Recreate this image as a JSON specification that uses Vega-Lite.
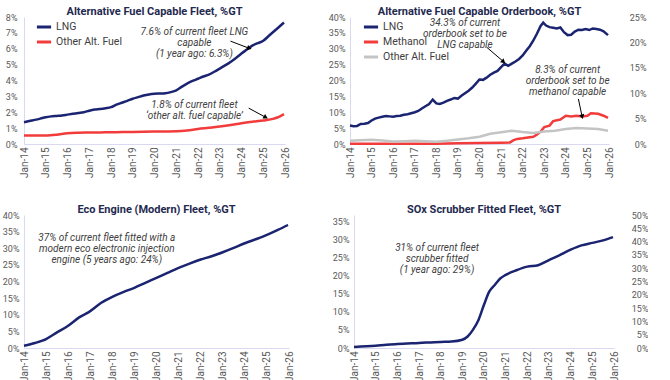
{
  "$schema": "https://vega.github.io/schema/vega-lite/v6.json",
  "padding": {"left": 2, "top": 6, "right": 0, "bottom": 0},
  "background": "white",
  "spacing": 26,
  "config": {
    "view": {"stroke": null},
    "font": "Roboto",
    "axis": {"grid": false, "ticks": false, "domainColor": "#d9d9f2", "domainWidth": 1, "labelColor": "#595959", "labelFont": "Roboto", "labelFontSize": 9, "title": null, "labelPadding": 5, "labelOverlap": false},
    "axisX": {"labelAngle": -90, "labelFontSize": 10, "format": "%b-%y", "labelPadding": 3, "labelOverlap": false, "labelFlush": false, "tickCount": {"interval": "year", "step": 1}},
    "title": {"fontSize": 11, "font": "Roboto", "fontWeight": "bold", "color": "#1f2a50", "offset": -4, "anchor": "middle"},
    "legend": {"title": null, "orient": "none", "symbolType": "stroke", "symbolStrokeWidth": 3, "labelFont": "Roboto", "labelFontSize": 10.5, "labelColor": "#404040", "labelOffset": 3, "padding": 0}
  },
  "datasets": {
    "p1": [
      {"series": "LNG", "date": "2014-01-01", "value": 1.37},
      {"series": "LNG", "date": "2014-04-01", "value": 1.45},
      {"series": "LNG", "date": "2014-07-01", "value": 1.52},
      {"series": "LNG", "date": "2014-10-01", "value": 1.6},
      {"series": "LNG", "date": "2015-01-01", "value": 1.69},
      {"series": "LNG", "date": "2015-04-01", "value": 1.74},
      {"series": "LNG", "date": "2015-07-01", "value": 1.77},
      {"series": "LNG", "date": "2015-10-01", "value": 1.8},
      {"series": "LNG", "date": "2016-01-01", "value": 1.85},
      {"series": "LNG", "date": "2016-04-01", "value": 1.9},
      {"series": "LNG", "date": "2016-07-01", "value": 1.95},
      {"series": "LNG", "date": "2016-10-01", "value": 2.0},
      {"series": "LNG", "date": "2017-01-01", "value": 2.1},
      {"series": "LNG", "date": "2017-04-01", "value": 2.17},
      {"series": "LNG", "date": "2017-07-01", "value": 2.2},
      {"series": "LNG", "date": "2017-10-01", "value": 2.25},
      {"series": "LNG", "date": "2018-01-01", "value": 2.32},
      {"series": "LNG", "date": "2018-04-01", "value": 2.48},
      {"series": "LNG", "date": "2018-07-01", "value": 2.6},
      {"series": "LNG", "date": "2018-10-01", "value": 2.72},
      {"series": "LNG", "date": "2019-01-01", "value": 2.85},
      {"series": "LNG", "date": "2019-04-01", "value": 2.95},
      {"series": "LNG", "date": "2019-07-01", "value": 3.05},
      {"series": "LNG", "date": "2019-10-01", "value": 3.12},
      {"series": "LNG", "date": "2020-01-01", "value": 3.16},
      {"series": "LNG", "date": "2020-04-01", "value": 3.18},
      {"series": "LNG", "date": "2020-07-01", "value": 3.2},
      {"series": "LNG", "date": "2020-10-01", "value": 3.27},
      {"series": "LNG", "date": "2021-01-01", "value": 3.38},
      {"series": "LNG", "date": "2021-04-01", "value": 3.6},
      {"series": "LNG", "date": "2021-07-01", "value": 3.8},
      {"series": "LNG", "date": "2021-10-01", "value": 3.97},
      {"series": "LNG", "date": "2022-01-01", "value": 4.11},
      {"series": "LNG", "date": "2022-04-01", "value": 4.25},
      {"series": "LNG", "date": "2022-07-01", "value": 4.37},
      {"series": "LNG", "date": "2022-10-01", "value": 4.55},
      {"series": "LNG", "date": "2023-01-01", "value": 4.75},
      {"series": "LNG", "date": "2023-04-01", "value": 4.95},
      {"series": "LNG", "date": "2023-07-01", "value": 5.17},
      {"series": "LNG", "date": "2023-10-01", "value": 5.42},
      {"series": "LNG", "date": "2024-01-01", "value": 5.7},
      {"series": "LNG", "date": "2024-04-01", "value": 5.95},
      {"series": "LNG", "date": "2024-07-01", "value": 6.2},
      {"series": "LNG", "date": "2024-10-01", "value": 6.35},
      {"series": "LNG", "date": "2025-01-01", "value": 6.5},
      {"series": "LNG", "date": "2025-04-01", "value": 6.8},
      {"series": "LNG", "date": "2025-07-01", "value": 7.1},
      {"series": "LNG", "date": "2025-10-01", "value": 7.4},
      {"series": "LNG", "date": "2025-12-15", "value": 7.65},
      {"series": "Other Alt. Fuel", "date": "2014-01-01", "value": 0.53},
      {"series": "Other Alt. Fuel", "date": "2014-07-01", "value": 0.53},
      {"series": "Other Alt. Fuel", "date": "2015-01-01", "value": 0.53},
      {"series": "Other Alt. Fuel", "date": "2015-07-01", "value": 0.58},
      {"series": "Other Alt. Fuel", "date": "2016-01-01", "value": 0.68},
      {"series": "Other Alt. Fuel", "date": "2016-07-01", "value": 0.71},
      {"series": "Other Alt. Fuel", "date": "2017-01-01", "value": 0.72},
      {"series": "Other Alt. Fuel", "date": "2017-07-01", "value": 0.73},
      {"series": "Other Alt. Fuel", "date": "2018-01-01", "value": 0.74},
      {"series": "Other Alt. Fuel", "date": "2018-07-01", "value": 0.75},
      {"series": "Other Alt. Fuel", "date": "2019-01-01", "value": 0.76},
      {"series": "Other Alt. Fuel", "date": "2019-07-01", "value": 0.77},
      {"series": "Other Alt. Fuel", "date": "2020-01-01", "value": 0.78},
      {"series": "Other Alt. Fuel", "date": "2020-07-01", "value": 0.79},
      {"series": "Other Alt. Fuel", "date": "2021-01-01", "value": 0.8},
      {"series": "Other Alt. Fuel", "date": "2021-07-01", "value": 0.85},
      {"series": "Other Alt. Fuel", "date": "2022-01-01", "value": 0.95},
      {"series": "Other Alt. Fuel", "date": "2022-07-01", "value": 1.02},
      {"series": "Other Alt. Fuel", "date": "2023-01-01", "value": 1.1},
      {"series": "Other Alt. Fuel", "date": "2023-07-01", "value": 1.2},
      {"series": "Other Alt. Fuel", "date": "2024-01-01", "value": 1.31},
      {"series": "Other Alt. Fuel", "date": "2024-07-01", "value": 1.4},
      {"series": "Other Alt. Fuel", "date": "2025-01-01", "value": 1.48},
      {"series": "Other Alt. Fuel", "date": "2025-07-01", "value": 1.6},
      {"series": "Other Alt. Fuel", "date": "2025-10-01", "value": 1.72},
      {"series": "Other Alt. Fuel", "date": "2025-12-15", "value": 1.88}
    ],
    "p2": [
      {"series": "LNG", "date": "2014-01-01", "value": 5.8},
      {"series": "LNG", "date": "2014-03-01", "value": 5.6},
      {"series": "LNG", "date": "2014-05-01", "value": 5.7},
      {"series": "LNG", "date": "2014-07-01", "value": 6.3},
      {"series": "LNG", "date": "2014-09-01", "value": 6.4},
      {"series": "LNG", "date": "2014-11-01", "value": 6.6},
      {"series": "LNG", "date": "2015-01-01", "value": 7.4},
      {"series": "LNG", "date": "2015-03-01", "value": 8.0},
      {"series": "LNG", "date": "2015-05-01", "value": 8.3},
      {"series": "LNG", "date": "2015-07-01", "value": 8.6},
      {"series": "LNG", "date": "2015-09-01", "value": 8.8},
      {"series": "LNG", "date": "2015-11-01", "value": 8.7},
      {"series": "LNG", "date": "2016-01-01", "value": 8.6},
      {"series": "LNG", "date": "2016-03-01", "value": 8.8},
      {"series": "LNG", "date": "2016-05-01", "value": 8.9},
      {"series": "LNG", "date": "2016-07-01", "value": 9.2},
      {"series": "LNG", "date": "2016-09-01", "value": 9.4},
      {"series": "LNG", "date": "2016-11-01", "value": 9.7},
      {"series": "LNG", "date": "2017-01-01", "value": 10.0},
      {"series": "LNG", "date": "2017-03-01", "value": 10.4},
      {"series": "LNG", "date": "2017-05-01", "value": 11.2},
      {"series": "LNG", "date": "2017-07-01", "value": 11.9},
      {"series": "LNG", "date": "2017-09-01", "value": 12.6},
      {"series": "LNG", "date": "2017-11-01", "value": 14.0},
      {"series": "LNG", "date": "2018-01-01", "value": 12.8},
      {"series": "LNG", "date": "2018-03-01", "value": 12.6},
      {"series": "LNG", "date": "2018-05-01", "value": 13.0},
      {"series": "LNG", "date": "2018-07-01", "value": 13.6},
      {"series": "LNG", "date": "2018-09-01", "value": 14.0},
      {"series": "LNG", "date": "2018-11-01", "value": 14.5},
      {"series": "LNG", "date": "2019-01-01", "value": 14.3},
      {"series": "LNG", "date": "2019-03-01", "value": 15.2},
      {"series": "LNG", "date": "2019-05-01", "value": 16.0},
      {"series": "LNG", "date": "2019-07-01", "value": 16.8},
      {"series": "LNG", "date": "2019-09-01", "value": 17.8},
      {"series": "LNG", "date": "2019-11-01", "value": 19.0},
      {"series": "LNG", "date": "2020-01-01", "value": 20.3},
      {"series": "LNG", "date": "2020-03-01", "value": 20.2},
      {"series": "LNG", "date": "2020-05-01", "value": 20.9},
      {"series": "LNG", "date": "2020-07-01", "value": 21.8},
      {"series": "LNG", "date": "2020-09-01", "value": 22.5},
      {"series": "LNG", "date": "2020-11-01", "value": 23.0},
      {"series": "LNG", "date": "2021-01-01", "value": 24.2},
      {"series": "LNG", "date": "2021-03-01", "value": 25.3},
      {"series": "LNG", "date": "2021-05-01", "value": 24.6},
      {"series": "LNG", "date": "2021-07-01", "value": 25.3},
      {"series": "LNG", "date": "2021-09-01", "value": 26.0},
      {"series": "LNG", "date": "2021-11-01", "value": 26.8},
      {"series": "LNG", "date": "2022-01-01", "value": 27.9},
      {"series": "LNG", "date": "2022-03-01", "value": 29.4},
      {"series": "LNG", "date": "2022-05-01", "value": 30.8},
      {"series": "LNG", "date": "2022-07-01", "value": 32.6},
      {"series": "LNG", "date": "2022-09-01", "value": 34.8},
      {"series": "LNG", "date": "2022-11-01", "value": 37.2},
      {"series": "LNG", "date": "2022-12-15", "value": 38.2},
      {"series": "LNG", "date": "2023-02-01", "value": 37.3},
      {"series": "LNG", "date": "2023-04-01", "value": 36.8},
      {"series": "LNG", "date": "2023-06-01", "value": 36.6},
      {"series": "LNG", "date": "2023-08-01", "value": 36.4},
      {"series": "LNG", "date": "2023-10-01", "value": 36.7},
      {"series": "LNG", "date": "2023-12-01", "value": 35.2},
      {"series": "LNG", "date": "2024-02-01", "value": 34.3},
      {"series": "LNG", "date": "2024-04-01", "value": 34.4},
      {"series": "LNG", "date": "2024-06-01", "value": 35.4},
      {"series": "LNG", "date": "2024-08-01", "value": 36.0},
      {"series": "LNG", "date": "2024-10-01", "value": 35.9},
      {"series": "LNG", "date": "2024-12-01", "value": 36.2},
      {"series": "LNG", "date": "2025-02-01", "value": 35.9},
      {"series": "LNG", "date": "2025-04-01", "value": 36.4},
      {"series": "LNG", "date": "2025-06-01", "value": 36.2},
      {"series": "LNG", "date": "2025-08-01", "value": 36.0},
      {"series": "LNG", "date": "2025-10-01", "value": 35.5},
      {"series": "LNG", "date": "2025-12-15", "value": 34.3},
      {"series": "Methanol", "date": "2014-01-01", "value": 0.1},
      {"series": "Methanol", "date": "2016-01-01", "value": 0.1},
      {"series": "Methanol", "date": "2018-01-01", "value": 0.1},
      {"series": "Methanol", "date": "2019-01-01", "value": 0.2},
      {"series": "Methanol", "date": "2020-01-01", "value": 0.3},
      {"series": "Methanol", "date": "2021-01-01", "value": 0.4},
      {"series": "Methanol", "date": "2021-06-01", "value": 0.5},
      {"series": "Methanol", "date": "2021-08-01", "value": 1.2},
      {"series": "Methanol", "date": "2021-10-01", "value": 1.6},
      {"series": "Methanol", "date": "2022-01-01", "value": 1.8},
      {"series": "Methanol", "date": "2022-07-01", "value": 2.3},
      {"series": "Methanol", "date": "2022-09-01", "value": 3.0},
      {"series": "Methanol", "date": "2022-11-01", "value": 3.9},
      {"series": "Methanol", "date": "2023-01-01", "value": 5.3},
      {"series": "Methanol", "date": "2023-04-01", "value": 5.8},
      {"series": "Methanol", "date": "2023-06-01", "value": 7.2},
      {"series": "Methanol", "date": "2023-10-01", "value": 7.7},
      {"series": "Methanol", "date": "2024-01-01", "value": 8.9},
      {"series": "Methanol", "date": "2024-04-01", "value": 8.7},
      {"series": "Methanol", "date": "2024-07-01", "value": 8.9},
      {"series": "Methanol", "date": "2024-10-01", "value": 8.7},
      {"series": "Methanol", "date": "2025-01-01", "value": 8.9},
      {"series": "Methanol", "date": "2025-03-01", "value": 9.7},
      {"series": "Methanol", "date": "2025-07-01", "value": 9.5},
      {"series": "Methanol", "date": "2025-10-01", "value": 8.9},
      {"series": "Methanol", "date": "2025-12-15", "value": 8.2},
      {"series": "Other Alt. Fuel", "date": "2014-01-01", "value": 1.05},
      {"series": "Other Alt. Fuel", "date": "2014-07-01", "value": 1.2},
      {"series": "Other Alt. Fuel", "date": "2015-01-01", "value": 1.3},
      {"series": "Other Alt. Fuel", "date": "2015-07-01", "value": 1.1},
      {"series": "Other Alt. Fuel", "date": "2016-01-01", "value": 0.8},
      {"series": "Other Alt. Fuel", "date": "2016-07-01", "value": 0.9},
      {"series": "Other Alt. Fuel", "date": "2017-01-01", "value": 1.05},
      {"series": "Other Alt. Fuel", "date": "2017-07-01", "value": 0.9},
      {"series": "Other Alt. Fuel", "date": "2018-01-01", "value": 0.7},
      {"series": "Other Alt. Fuel", "date": "2018-07-01", "value": 1.0},
      {"series": "Other Alt. Fuel", "date": "2019-01-01", "value": 1.4},
      {"series": "Other Alt. Fuel", "date": "2019-07-01", "value": 1.8},
      {"series": "Other Alt. Fuel", "date": "2020-01-01", "value": 2.3},
      {"series": "Other Alt. Fuel", "date": "2020-07-01", "value": 3.2},
      {"series": "Other Alt. Fuel", "date": "2021-01-01", "value": 3.7},
      {"series": "Other Alt. Fuel", "date": "2021-07-01", "value": 4.2},
      {"series": "Other Alt. Fuel", "date": "2022-01-01", "value": 3.8},
      {"series": "Other Alt. Fuel", "date": "2022-07-01", "value": 3.5},
      {"series": "Other Alt. Fuel", "date": "2023-01-01", "value": 3.9},
      {"series": "Other Alt. Fuel", "date": "2023-07-01", "value": 4.2},
      {"series": "Other Alt. Fuel", "date": "2024-01-01", "value": 4.7},
      {"series": "Other Alt. Fuel", "date": "2024-07-01", "value": 5.0},
      {"series": "Other Alt. Fuel", "date": "2025-01-01", "value": 4.9},
      {"series": "Other Alt. Fuel", "date": "2025-07-01", "value": 4.7},
      {"series": "Other Alt. Fuel", "date": "2025-12-15", "value": 4.2}
    ],
    "p3": [
      {"date": "2014-01-01", "value": 0.7},
      {"date": "2014-07-01", "value": 1.5},
      {"date": "2015-01-01", "value": 2.7},
      {"date": "2015-07-01", "value": 4.7},
      {"date": "2016-01-01", "value": 6.7},
      {"date": "2016-07-01", "value": 9.2},
      {"date": "2017-01-01", "value": 11.1},
      {"date": "2017-07-01", "value": 13.6},
      {"date": "2018-01-01", "value": 15.4},
      {"date": "2018-07-01", "value": 16.8},
      {"date": "2019-01-01", "value": 18.1},
      {"date": "2019-07-01", "value": 19.6},
      {"date": "2020-01-01", "value": 21.1},
      {"date": "2020-07-01", "value": 22.6},
      {"date": "2021-01-01", "value": 24.1},
      {"date": "2021-07-01", "value": 25.4},
      {"date": "2022-01-01", "value": 26.6},
      {"date": "2022-07-01", "value": 27.6},
      {"date": "2023-01-01", "value": 28.8},
      {"date": "2023-07-01", "value": 30.1},
      {"date": "2024-01-01", "value": 31.5},
      {"date": "2024-07-01", "value": 32.7},
      {"date": "2025-01-01", "value": 34.0},
      {"date": "2025-07-01", "value": 35.5},
      {"date": "2025-12-15", "value": 37.0}
    ],
    "p4": [
      {"date": "2014-01-01", "value": 0.3},
      {"date": "2015-01-01", "value": 0.6},
      {"date": "2015-07-01", "value": 0.9},
      {"date": "2016-01-01", "value": 1.1},
      {"date": "2017-01-01", "value": 1.4},
      {"date": "2018-01-01", "value": 1.7},
      {"date": "2018-07-01", "value": 1.8},
      {"date": "2019-01-01", "value": 2.3},
      {"date": "2019-04-01", "value": 3.2},
      {"date": "2019-07-01", "value": 5.1},
      {"date": "2019-10-01", "value": 7.8},
      {"date": "2020-01-01", "value": 12.0},
      {"date": "2020-04-01", "value": 15.7},
      {"date": "2020-07-01", "value": 17.5},
      {"date": "2020-10-01", "value": 19.3},
      {"date": "2021-01-01", "value": 20.3},
      {"date": "2021-07-01", "value": 21.6},
      {"date": "2022-01-01", "value": 22.6},
      {"date": "2022-07-01", "value": 23.0},
      {"date": "2023-01-01", "value": 24.4},
      {"date": "2023-07-01", "value": 25.8},
      {"date": "2024-01-01", "value": 27.3},
      {"date": "2024-07-01", "value": 28.5},
      {"date": "2025-01-01", "value": 29.2},
      {"date": "2025-07-01", "value": 29.9},
      {"date": "2025-12-15", "value": 30.8}
    ],
    "notes": [
      {"panel": 1, "date": "2021-11-01", "value": 7.37, "label": "7.6% of current fleet LNG\ncapable\n(1 year ago: 6.3%)"},
      {"panel": 1, "date": "2021-11-01", "value": 2.77, "label": "1.8% of current fleet\n‘other alt. fuel capable’"},
      {"panel": 2, "date": "2019-05-01", "value": 39.6, "label": "34.3% of current\norderbook set to be\nLNG capable"},
      {"panel": 2, "date": "2024-02-01", "value": 24.9, "label": "8.3% of current\norderbook set to be\nmethanol capable"},
      {"panel": 3, "date": "2017-10-01", "value": 34.6, "label": "37% of current fleet fitted with a\nmodern eco electronic injection\nengine (5 years ago: 24%)"},
      {"panel": 4, "date": "2017-11-01", "value": 29.2, "label": "31% of current fleet\nscrubber fitted\n(1 year ago: 29%)"}
    ],
    "arrows": [
      {"id": "a1", "date": "2023-07-01", "value": 6.48, "date2": "2024-05-01", "value2": 6.04},
      {"id": "a2", "date": "2024-05-01", "value": 2.26, "date2": "2025-02-01", "value2": 1.7},
      {"id": "a3", "date": "2020-05-01", "value": 30.5, "date2": "2021-02-01", "value2": 26.1},
      {"id": "a4", "date": "2024-08-01", "value": 14.2, "date2": "2024-10-01", "value2": 8.8}
    ]
  },
  "vconcat": [
    {
      "spacing": 38,
      "resolve": {"scale": {"color": "independent"}, "legend": {"color": "independent"}},
      "hconcat": [
        {
          "title": "Alternative Fuel Capable Fleet, %GT",
          "width": 261,
          "height": 127,
          "encoding": {
            "x": {"field": "date", "type": "temporal", "scale": {"type": "utc", "domain": [{"year": 2014, "month": 1, "date": 1, "utc": true}, {"year": 2026, "month": 1, "date": 1, "utc": true}]}},
            "y": {"field": "value", "type": "quantitative", "scale": {"domain": [0, 8], "nice": false}, "axis": {"values": [0, 1, 2, 3, 4, 5, 6, 7, 8], "labelExpr": "datum.value + '%'", "labelPadding": 7, "labelOverlap": false}}
          },
          "layer": [
            {
              "data": {"name": "p1"},
              "mark": {"type": "line", "strokeWidth": 2.5, "interpolate": "monotone"},
              "encoding": {
                "color": {"field": "series", "type": "nominal", "scale": {"domain": ["LNG", "Other Alt. Fuel"], "range": ["#1b2470", "#f23c3c"]}, "legend": {"legendX": 11, "legendY": 1, "symbolSize": 200, "rowPadding": -2}}
              }
            },
            {
              "data": {"name": "notes"},
              "transform": [{"filter": "datum.panel == 1"}],
              "mark": {"type": "text", "align": "center", "baseline": "top", "fontStyle": "italic", "fontSize": 10, "lineHeight": 11, "lineBreak": "\n", "color": "#404040"},
              "encoding": {"text": {"field": "label"}}
            },
            {
              "data": {"name": "arrows"},
              "transform": [{"filter": "datum.id == 'a1' || datum.id == 'a2'"}],
              "mark": {"type": "rule", "color": "#000000", "strokeWidth": 1},
              "encoding": {"x2": {"field": "date2"}, "y2": {"field": "value2"}}
            },
            {
              "data": {"name": "arrows"},
              "transform": [{"filter": "datum.id == 'a1'"}],
              "mark": {"type": "point", "shape": "triangle", "filled": true, "color": "#000000", "size": 28, "angle": 109, "opacity": 1},
              "encoding": {
                "x": {"field": "date2", "type": "temporal", "scale": {"type": "utc", "domain": [{"year": 2014, "month": 1, "date": 1, "utc": true}, {"year": 2026, "month": 1, "date": 1, "utc": true}]}},
                "y": {"field": "value2", "type": "quantitative", "scale": {"domain": [0, 8], "nice": false}, "axis": {"values": [0, 1, 2, 3, 4, 5, 6, 7, 8], "labelExpr": "datum.value + '%'", "labelPadding": 7, "labelOverlap": false}}
              }
            },
            {
              "data": {"name": "arrows"},
              "transform": [{"filter": "datum.id == 'a2'"}],
              "mark": {"type": "point", "shape": "triangle", "filled": true, "color": "#000000", "size": 28, "angle": 119, "opacity": 1},
              "encoding": {
                "x": {"field": "date2", "type": "temporal", "scale": {"type": "utc", "domain": [{"year": 2014, "month": 1, "date": 1, "utc": true}, {"year": 2026, "month": 1, "date": 1, "utc": true}]}},
                "y": {"field": "value2", "type": "quantitative", "scale": {"domain": [0, 8], "nice": false}, "axis": {"values": [0, 1, 2, 3, 4, 5, 6, 7, 8], "labelExpr": "datum.value + '%'", "labelPadding": 7, "labelOverlap": false}}
              }
            }
          ]
        },
        {
          "title": "Alternative Fuel Capable Orderbook, %GT",
          "width": 259,
          "height": 127,
          "resolve": {"scale": {"y": "independent"}},
          "layer": [
            {
              "encoding": {
                "x": {"field": "date", "type": "temporal", "scale": {"type": "utc", "domain": [{"year": 2014, "month": 1, "date": 1, "utc": true}, {"year": 2026, "month": 1, "date": 1, "utc": true}]}},
                "y": {"field": "value", "type": "quantitative", "scale": {"domain": [0, 40], "nice": false}, "axis": {"values": [0, 5, 10, 15, 20, 25, 30, 35, 40], "labelExpr": "datum.value + '%'", "orient": "left", "labelOverlap": false}}
              },
              "layer": [
                {
                  "data": {"name": "p2"},
                  "mark": {"type": "line", "strokeWidth": 2.5},
                  "encoding": {
                    "color": {"field": "series", "type": "nominal", "scale": {"domain": ["LNG", "Methanol", "Other Alt. Fuel"], "range": ["#1b2470", "#f23c3c", "#c4c4c4"]}, "legend": {"legendX": 12, "legendY": 1, "symbolSize": 200, "rowPadding": -2}}
                  }
                },
                {
                  "data": {"name": "notes"},
                  "transform": [{"filter": "datum.panel == 2"}],
                  "mark": {"type": "text", "align": "center", "baseline": "top", "fontStyle": "italic", "fontSize": 10, "lineHeight": 11, "lineBreak": "\n", "color": "#404040"},
                  "encoding": {"text": {"field": "label"}}
                },
                {
                  "data": {"name": "arrows"},
                  "transform": [{"filter": "datum.id == 'a3' || datum.id == 'a4'"}],
                  "mark": {"type": "rule", "color": "#000000", "strokeWidth": 1},
                  "encoding": {"x2": {"field": "date2"}, "y2": {"field": "value2"}}
                },
                {
                  "data": {"name": "arrows"},
                  "transform": [{"filter": "datum.id == 'a3'"}],
                  "mark": {"type": "point", "shape": "triangle", "filled": true, "color": "#000000", "size": 28, "angle": 131, "opacity": 1},
                  "encoding": {
                    "x": {"field": "date2", "type": "temporal", "scale": {"type": "utc", "domain": [{"year": 2014, "month": 1, "date": 1, "utc": true}, {"year": 2026, "month": 1, "date": 1, "utc": true}]}},
                    "y": {"field": "value2", "type": "quantitative", "scale": {"domain": [0, 40], "nice": false}, "axis": {"values": [0, 5, 10, 15, 20, 25, 30, 35, 40], "labelExpr": "datum.value + '%'", "orient": "left", "labelOverlap": false}}
                  }
                },
                {
                  "data": {"name": "arrows"},
                  "transform": [{"filter": "datum.id == 'a4'"}],
                  "mark": {"type": "point", "shape": "triangle", "filled": true, "color": "#000000", "size": 28, "angle": 164, "opacity": 1},
                  "encoding": {
                    "x": {"field": "date2", "type": "temporal", "scale": {"type": "utc", "domain": [{"year": 2014, "month": 1, "date": 1, "utc": true}, {"year": 2026, "month": 1, "date": 1, "utc": true}]}},
                    "y": {"field": "value2", "type": "quantitative", "scale": {"domain": [0, 40], "nice": false}, "axis": {"values": [0, 5, 10, 15, 20, 25, 30, 35, 40], "labelExpr": "datum.value + '%'", "orient": "left", "labelOverlap": false}}
                  }
                }
              ]
            },
            {
              "data": {"values": [{"v": 0}, {"v": 25}]},
              "mark": {"type": "point", "opacity": 0},
              "encoding": {
                "y": {"field": "v", "type": "quantitative", "scale": {"domain": [0, 25], "nice": false}, "axis": {"orient": "right", "values": [0, 5, 10, 15, 20, 25], "labelExpr": "datum.value + '%'", "domain": false, "labelAlign": "right", "labelPadding": 37, "labelOverlap": false}}
              }
            }
          ]
        }
      ]
    },
    {
      "spacing": 38,
      "hconcat": [
        {
          "title": "Eco Engine (Modern) Fleet, %GT",
          "width": 265,
          "height": 133,
          "encoding": {
            "x": {"field": "date", "type": "temporal", "scale": {"type": "utc", "domain": [{"year": 2014, "month": 1, "date": 1, "utc": true}, {"year": 2026, "month": 1, "date": 1, "utc": true}]}},
            "y": {"field": "value", "type": "quantitative", "scale": {"domain": [0, 40], "nice": false}, "axis": {"values": [0, 5, 10, 15, 20, 25, 30, 35, 40], "labelExpr": "datum.value + '%'", "labelPadding": 5, "labelOverlap": false}}
          },
          "layer": [
            {
              "data": {"name": "p3"},
              "mark": {"type": "line", "strokeWidth": 2.5, "interpolate": "monotone", "color": "#1b2470"}
            },
            {
              "data": {"name": "notes"},
              "transform": [{"filter": "datum.panel == 3"}],
              "mark": {"type": "text", "align": "center", "baseline": "top", "fontStyle": "italic", "fontSize": 10, "lineHeight": 11, "lineBreak": "\n", "color": "#404040"},
              "encoding": {"text": {"field": "label"}}
            }
          ]
        },
        {
          "title": "SOx Scrubber Fitted Fleet, %GT",
          "width": 260,
          "height": 133,
          "resolve": {"scale": {"y": "independent"}},
          "layer": [
            {
              "encoding": {
                "x": {"field": "date", "type": "temporal", "scale": {"type": "utc", "domain": [{"year": 2014, "month": 1, "date": 1, "utc": true}, {"year": 2026, "month": 1, "date": 1, "utc": true}]}},
                "y": {"field": "value", "type": "quantitative", "scale": {"domain": [0, 36.94], "nice": false}, "axis": {"values": [0, 5, 10, 15, 20, 25, 30, 35], "labelExpr": "datum.value + '%'", "orient": "left", "labelOverlap": false}}
              },
              "layer": [
                {
                  "data": {"name": "p4"},
                  "mark": {"type": "line", "strokeWidth": 2.5, "interpolate": "monotone", "color": "#1b2470"}
                },
                {
                  "data": {"name": "notes"},
                  "transform": [{"filter": "datum.panel == 4"}],
                  "mark": {"type": "text", "align": "center", "baseline": "top", "fontStyle": "italic", "fontSize": 10, "lineHeight": 11, "lineBreak": "\n", "color": "#404040"},
                  "encoding": {"text": {"field": "label"}}
                }
              ]
            },
            {
              "data": {"values": [{"v": 0}, {"v": 50}]},
              "mark": {"type": "point", "opacity": 0},
              "encoding": {
                "y": {"field": "v", "type": "quantitative", "scale": {"domain": [0, 50], "nice": false}, "axis": {"orient": "right", "values": [0, 5, 10, 15, 20, 25, 30, 35, 40, 45, 50], "labelExpr": "datum.value + '%'", "domain": false, "labelAlign": "right", "labelPadding": 34, "labelOverlap": false}}
              }
            }
          ]
        }
      ]
    }
  ]
}
